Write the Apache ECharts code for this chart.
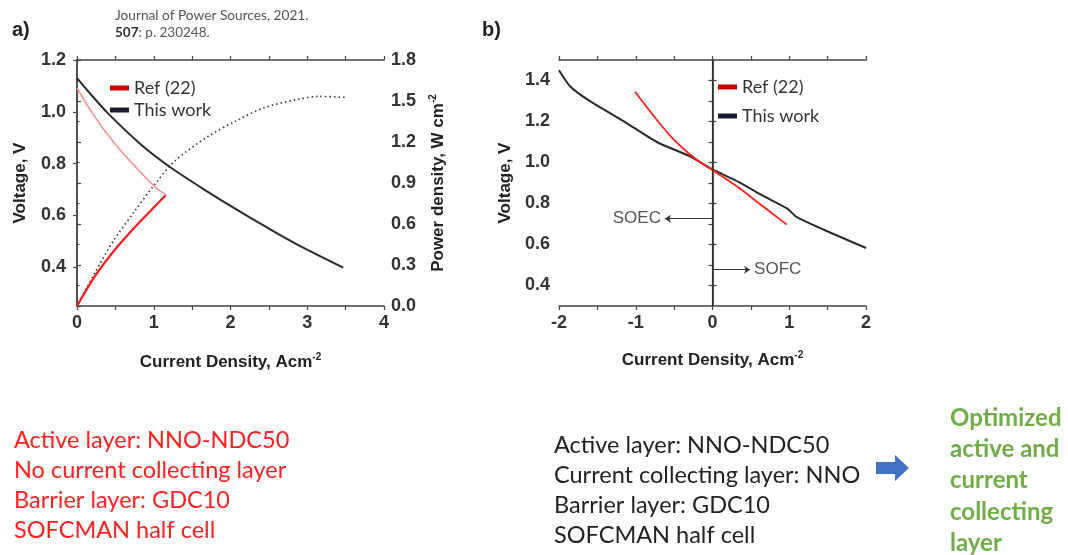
<!DOCTYPE html>
<html>
<head>
<meta charset="utf-8">
<script src="https://cdn.jsdelivr.net/npm/echarts@6/dist/echarts.min.js"></script>
<style>html,body{margin:0;padding:0;background:#fff;}#c{width:1068px;height:555px;}</style>
</head>
<body>
<div id="c"></div>
<script>
// ---------- Panel a data (SOFC polarisation, power density) ----------
const aThisWorkI = [0, 0.19, 0.40, 0.84, 1.23, 1.71, 2.06, 2.43, 2.86, 3.47];
const aThisWorkV = [1.13, 1.064, 0.995, 0.872, 0.783, 0.690, 0.626, 0.561, 0.489, 0.398];
const aRefI = [0, 0.21, 0.47, 0.73, 1.035, 1.155];
const aRefV = [1.091, 0.99, 0.885, 0.797, 0.705, 0.681];
const aRefPI = [0, 0.23, 0.49, 0.75, 0.97, 1.155];
const aRefP = [0, 0.215, 0.41, 0.575, 0.703, 0.81];
const aThisWorkPI = [0, 0.23, 0.47, 0.75, 1.01, 1.27, 1.71, 2.06, 2.43, 2.86, 3.16, 3.49];
const aThisWorkP = [0, 0.24, 0.473, 0.693, 0.888, 1.059, 1.242, 1.351, 1.449, 1.510, 1.534, 1.527];
const aVoltLabels = [0.4, 0.6, 0.8, 1.0, 1.2];
// ---------- Panel b data (SOEC / SOFC) ----------
const bThisWorkI = [-2.0, -1.857, -1.596, -1.16, -0.726, -0.292, 0, 0.339, 0.643, 0.97, 1.10, 1.45, 2.0];
const bThisWorkV = [1.45, 1.372, 1.299, 1.202, 1.100, 1.030, 0.966, 0.906, 0.841, 0.776, 0.733, 0.672, 0.583];
const bRefI = [-1.009, -0.748, -0.531, -0.313, -0.15, 0.013, 0.339, 0.643, 0.969];
const bRefV = [1.345, 1.218, 1.122, 1.045, 0.999, 0.960, 0.878, 0.790, 0.697];
const bVoltLabels = [0.4, 0.6, 0.8, 1.0, 1.2, 1.4];
const bVoltTicks = [0.4, 0.5, 0.6, 0.7, 0.8, 0.9, 1.0, 1.1, 1.2, 1.3, 1.4];
// ---------- Texts ----------
const legendNames = ['Ref (22)', 'This work'];
const refLines = ['Active layer: NNO-NDC50', 'No current collecting layer', 'Barrier layer: GDC10', 'SOFCMAN half cell'];
const workLines = ['Active layer: NNO-NDC50', 'Current collecting layer: NNO', 'Barrier layer: GDC10', 'SOFCMAN half cell'];
const optLines = ['Optimized', 'active and', 'current', 'collecting', 'layer'];

const zip = (xs, ys) => xs.map((x, i) => [x, ys[i]]);
const AX = '#444';
const LBL = {fontFamily: 'Liberation Sans', fontWeight: 'bold', fontSize: 18, color: '#333'};
const NAME = {fontFamily: 'Liberation Sans', fontWeight: 'bold', fontSize: 17, color: '#222'};
const nameRich = {rich: {m: NAME, s: {fontFamily: 'Liberation Sans', fontWeight: 'bold', fontSize: 10, color: '#222', padding: [0, 0, 10, 0]}}};
const axLine = {show: true, lineStyle: {color: AX, width: 1.5}};
const tick = {show: true, length: 4, lineStyle: {color: AX, width: 1.2}};

const chart = echarts.init(document.getElementById('c'));
const g = [];
refLines.forEach((t, i) => g.push({type: 'text', x: 14, y: 440 + i * 30, style: {text: t, font: '23.5px Lato', fill: '#ff2020', verticalAlign: 'middle'}}));
workLines.forEach((t, i) => g.push({type: 'text', x: 554, y: 445 + i * 30, style: {text: t, font: '23.5px Lato', fill: '#222', verticalAlign: 'middle'}}));
optLines.forEach((t, i) => g.push({type: 'text', x: 950, y: 418 + i * 31.3, style: {text: t, font: 'bold 24px Lato', fill: '#70ad47', verticalAlign: 'middle'}}));
g.push({type: 'polygon', shape: {points: [[876, 462], [895, 462], [895, 455], [909, 468], [895, 481], [895, 474], [876, 474]]}, style: {fill: '#4472c4'}});
g.push({type: 'text', x: 12, y: 30, style: {text: 'a)', font: 'bold 20px Liberation Sans', fill: '#222', verticalAlign: 'middle'}});
g.push({type: 'text', x: 482, y: 30, style: {text: 'b)', font: 'bold 20px Liberation Sans', fill: '#222', verticalAlign: 'middle'}});
g.push({type: 'text', x: 115, y: 16, style: {text: 'Journal of Power Sources, 2021.', font: '13.7px Lato', fill: '#555', verticalAlign: 'middle'}});
g.push({type: 'text', x: 115, y: 33, style: {text: '{b|507}: p. 230248.', font: '13.5px Lato', fill: '#555', verticalAlign: 'middle', rich: {b: {fontWeight: 'bold', fontFamily: 'Lato', fontSize: 13.5, fill: '#333'}}}});

const option = {
  animation: false,
  backgroundColor: '#fff',
  graphic: g,
  legend: [
    {left: 105, top: 74, orient: 'vertical', itemWidth: 19, itemHeight: 5, itemGap: 4, icon: 'rect',
     textStyle: {fontFamily: 'Lato', fontSize: 18, color: '#333', lineHeight: 18},
     data: [{name: legendNames[0], itemStyle: {color: '#d00000'}}, {name: legendNames[1], itemStyle: {color: '#1a1a2e'}}]},
    {left: 713, top: 73, orient: 'vertical', itemWidth: 19, itemHeight: 5, itemGap: 11, icon: 'rect',
     textStyle: {fontFamily: 'Lato', fontSize: 18, color: '#333', lineHeight: 18},
     data: [{name: legendNames[0], itemStyle: {color: '#d00000'}}, {name: legendNames[1], itemStyle: {color: '#1a1a2e'}}]}
  ],
  grid: [
    {left: 77, top: 60, width: 307, height: 246},
    {left: 559, top: 60, width: 307, height: 246}
  ],
  xAxis: [
    {gridIndex: 0, type: 'value', min: 0, max: 4, interval: 0.5, position: 'bottom',
     name: '{m|Current Density, Acm}{s|-2}', nameLocation: 'middle', nameGap: 46, nameTextStyle: nameRich,
     axisLine: axLine, axisTick: tick, splitLine: {show: false},
     axisLabel: Object.assign({margin: 8, formatter: v => (Math.abs(v % 1) < 1e-9 ? String(v) : '')}, LBL)},
    {gridIndex: 0, type: 'value', min: 0, max: 4, interval: 0.5, position: 'top',
     axisLine: axLine, axisTick: tick, axisLabel: {show: false}, splitLine: {show: false}},
    {gridIndex: 1, type: 'value', min: -2, max: 2, interval: 0.5, position: 'bottom',
     name: '{m|Current Density, Acm}{s|-2}', nameLocation: 'middle', nameGap: 44, nameTextStyle: nameRich,
     axisLine: axLine, axisTick: tick, splitLine: {show: false},
     axisLabel: Object.assign({margin: 8, formatter: v => (Math.abs(v % 1) < 1e-9 ? String(v) : '')}, LBL)},
    {gridIndex: 1, type: 'value', min: -2, max: 2, interval: 0.5, position: 'top',
     axisLine: axLine, axisTick: tick, axisLabel: {show: false}, splitLine: {show: false}}
  ],
  yAxis: [
    {gridIndex: 0, type: 'value', min: 0.25, max: 1.2, position: 'left',
     name: 'Voltage, V', nameLocation: 'middle', nameGap: 48, nameRotate: 90, nameTextStyle: NAME,
     axisLine: axLine, splitLine: {show: false},
     axisTick: Object.assign({customValues: aVoltLabels}, tick),
     axisLabel: Object.assign({margin: 11, customValues: aVoltLabels, formatter: v => v.toFixed(1)}, LBL)},
    {gridIndex: 0, type: 'value', min: 0, max: 1.8, interval: 0.3, position: 'right',
     name: '{m|Power density, W cm}{s|-2}', nameLocation: 'middle', nameGap: 44, nameRotate: 90, nameTextStyle: nameRich,
     axisLine: axLine, axisTick: tick, splitLine: {show: false},
     minorTick: {show: true, splitNumber: 2, length: 2.5, lineStyle: {color: AX}},
     axisLabel: Object.assign({margin: 7, formatter: v => v.toFixed(1)}, LBL)},
    {gridIndex: 1, type: 'value', min: 0.3, max: 1.5, position: 'left',
     name: 'Voltage, V', nameLocation: 'middle', nameGap: 45, nameRotate: 90, nameTextStyle: NAME,
     axisLine: axLine, splitLine: {show: false},
     axisTick: Object.assign({customValues: bVoltTicks}, tick),
     axisLabel: Object.assign({margin: 9, customValues: bVoltLabels, formatter: v => v.toFixed(1)}, LBL)},
    {gridIndex: 1, type: 'value', min: 0.3, max: 1.5, position: 'right',
     axisLine: axLine, splitLine: {show: false},
     axisTick: Object.assign({customValues: bVoltLabels}, tick), axisLabel: {show: false}}
  ],
  series: [
    {name: 'This work', type: 'line', xAxisIndex: 0, yAxisIndex: 0, data: zip(aThisWorkI, aThisWorkV),
     showSymbol: false, smooth: 0.3, lineStyle: {color: '#2a2a2a', width: 2}, itemStyle: {color: '#1a1a2e'}, z: 3},
    {name: 'Ref (22)', type: 'line', xAxisIndex: 0, yAxisIndex: 0, data: zip(aRefI, aRefV),
     showSymbol: false, smooth: 0.3, lineStyle: {color: '#ff8a8a', width: 1.5}, itemStyle: {color: '#d00000'}, z: 3},
    {name: 'This work P', type: 'line', xAxisIndex: 0, yAxisIndex: 1, data: zip(aThisWorkPI, aThisWorkP),
     showSymbol: false, smooth: 0.3, lineStyle: {color: '#333', width: 1.6, type: [1.5, 3]}, z: 2},
    {name: 'Ref (22) P', type: 'line', xAxisIndex: 0, yAxisIndex: 1, data: zip(aRefPI, aRefP),
     showSymbol: false, smooth: 0.3, lineStyle: {color: '#ff1a1a', width: 2.2}, z: 4},
    {name: 'This work', type: 'line', xAxisIndex: 2, yAxisIndex: 2, data: zip(bThisWorkI, bThisWorkV),
     showSymbol: false, smooth: 0.2, lineStyle: {color: '#2a2a2a', width: 2}, itemStyle: {color: '#1a1a2e'}, z: 3,
     markLine: {silent: true, animation: false, symbol: ['none', 'none'],
       lineStyle: {color: '#333', width: 1.2, type: 'solid'}, label: {show: false},
       data: [{xAxis: 0}]}},
    {name: 'Ref (22)', type: 'line', xAxisIndex: 2, yAxisIndex: 2, data: zip(bRefI, bRefV),
     showSymbol: false, smooth: 0.3, lineStyle: {color: '#ff2020', width: 1.8}, itemStyle: {color: '#d00000'}, z: 4,
     markLine: {silent: true, animation: false, symbol: ['none', 'arrow'], symbolSize: [6, 6],
       lineStyle: {color: '#333', width: 1.2, type: 'solid'},
       label: {show: true, position: 'end', distance: 4, fontFamily: 'Liberation Sans', fontSize: 17, color: '#555'},
       data: [
         [{coord: [0, 0.726], name: 'SOEC', label: {formatter: 'SOEC'}}, {coord: [-0.62, 0.726]}],
         [{coord: [0, 0.477], name: 'SOFC', label: {formatter: 'SOFC'}}, {coord: [0.49, 0.477]}]
       ]}}
  ]
};
chart.setOption(option);
</script>
</body>
</html>
